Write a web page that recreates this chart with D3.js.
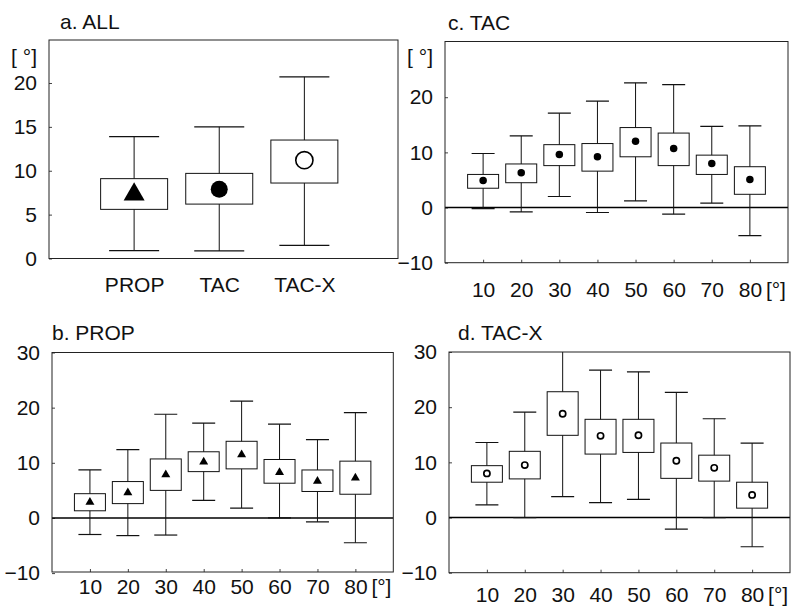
<!DOCTYPE html>
<html>
<head>
<meta charset="utf-8">
<script src="https://cdn.jsdelivr.net/npm/d3@7"></script>
<style>
  body { margin: 0; background: #fff; }
  text { font-family: "Liberation Sans", Arial, sans-serif; fill: #111; }
</style>
</head>
<body>
<div id="viz"></div>
<script>
// a. ALL
const groups = ["PROP", "TAC", "TAC-X"];
const allLow = [0.9, 0.86, 1.5];
const allQ1 = [5.6, 6.2, 8.6];
const allMed = [7.65, 7.9, 11.2];
const allQ3 = [9.1, 9.7, 13.5];
const allHigh = [13.9, 15.0, 20.7];

// b-d: by angle
const angles = [10, 20, 30, 40, 50, 60, 70, 80];

const propLow = [-3.0, -3.2, -3.1, 3.2, 1.8, 0.0, -0.7, -4.5];
const propQ1 = [1.3, 2.6, 5.0, 8.4, 8.9, 6.3, 4.8, 4.3];
const propMed = [3.1, 4.8, 8.1, 10.4, 11.7, 8.5, 6.9, 7.5];
const propQ3 = [4.4, 6.6, 10.7, 12.0, 13.9, 10.6, 8.7, 10.3];
const propHigh = [8.7, 12.4, 18.8, 17.2, 21.2, 17.0, 14.2, 19.1];

const tacLow = [-0.2, -0.8, 2.0, -0.9, 1.2, -1.2, 0.8, -5.1];
const tacQ1 = [3.5, 4.5, 7.6, 6.6, 9.2, 7.6, 6.0, 2.4];
const tacMed = [4.9, 6.3, 9.6, 9.2, 12.0, 10.7, 8.0, 5.1];
const tacQ3 = [6.0, 7.9, 11.4, 11.6, 14.5, 13.5, 9.5, 7.4];
const tacHigh = [9.8, 13.0, 17.1, 19.3, 22.6, 22.3, 14.7, 14.8];

const tacxLow = [2.3, 0.0, 3.8, 2.7, 3.3, -2.1, 0.0, -5.3];
const tacxQ1 = [6.4, 7.0, 14.9, 11.5, 11.8, 7.1, 6.6, 1.7];
const tacxMed = [8.0, 9.5, 18.8, 14.8, 14.9, 10.3, 9.0, 4.1];
const tacxQ3 = [9.4, 12.0, 22.8, 17.8, 17.8, 13.5, 11.3, 6.4];
const tacxHigh = [13.6, 19.1, 31.0, 26.7, 26.4, 22.7, 17.9, 13.5];

const ticksAll = [0, 5, 10, 15, 20];
const ticksBD = [-10, 0, 10, 20, 30];
const ticksC = [-10, 0, 10, 20];

const width = 795;
const height = 609;
const fontSize = '21px';

const svg = d3.select('#viz').append('svg')
    .attr('width', width)
    .attr('height', height);

function rows(keys, low, q1, med, q3, high) {
    return keys.map((k, i) => ({ key: k, i: i, low: low[i], q1: q1[i], med: med[i], q3: q3[i], high: high[i] }));
}

function marker(g, kind, size) {
    if (kind === 'triangle') {
        const w = size, h = size * 0.86;
        g.append('path')
            .attr('d', `M0,${-h / 2}L${w / 2},${h / 2}L${-w / 2},${h / 2}Z`)
            .attr('fill', '#000');
    } else if (kind === 'dot') {
        g.append('circle').attr('r', size / 2).attr('fill', '#000');
    } else {
        g.append('circle').attr('r', size / 2 - 0.9)
            .attr('fill', '#fff').attr('stroke', '#000').attr('stroke-width', size > 10 ? 1.6 : 1.7);
    }
}

function panel(opt) {
    const g = svg.append('g');
    const { x0, x1, y0, y1 } = opt;

    const y = d3.scaleLinear().domain(opt.yDomain).range([y1, y0]);
    const x = opt.x;

    const clipId = 'clip-' + opt.id;
    g.append('clipPath').attr('id', clipId)
        .append('rect').attr('x', x0).attr('y', y0).attr('width', x1 - x0).attr('height', y1 - y0);

    // y axis
    const yAxis = g.append('g')
        .attr('transform', `translate(${x0},0)`)
        .call(d3.axisLeft(y).tickValues(opt.yTicks).tickFormat(d3.format('d'))
            .tickSizeInner(-3).tickSizeOuter(0).tickPadding(12));
    yAxis.select('.domain').remove();
    yAxis.selectAll('line').attr('stroke', '#444');
    yAxis.selectAll('text').style('font-size', fontSize).attr('fill', '#111');

    // x axis
    const xAxis = g.append('g')
        .attr('transform', `translate(0,${y1})`)
        .call(d3.axisBottom(x).tickValues(opt.xTicks).tickFormat(opt.xFormat)
            .tickSizeInner(opt.xTickSize).tickSizeOuter(0).tickPadding(opt.xPad));
    xAxis.select('.domain').remove();
    xAxis.selectAll('line').attr('stroke', '#444');
    xAxis.selectAll('text').style('font-size', fontSize).attr('fill', '#111');

    if (opt.xUnit) {
        g.append('text')
            .attr('x', x(80) + 16)
            .attr('y', y1 + opt.xPad)
            .attr('dy', '0.71em')
            .style('font-size', fontSize)
            .text('[°]');
    }
    if (opt.yUnit) {
        g.append('text')
            .attr('x', x0 - 12)
            .attr('y', 57)
            .attr('dy', '0.32em')
            .attr('text-anchor', 'end')
            .style('font-size', fontSize)
            .text('[ °]');
    }

    // title
    g.append('text')
        .attr('x', opt.titleX)
        .attr('y', opt.titleY)
        .style('font-size', fontSize)
        .text(opt.title);

    const marks = g.append('g').attr('clip-path', `url(#${clipId})`);

    if (opt.zeroLine) {
        marks.append('line')
            .attr('x1', x0).attr('x2', x1)
            .attr('y1', y(0)).attr('y2', y(0))
            .attr('stroke', '#000').attr('stroke-width', 1.6);
    }

    const box = marks.selectAll('g.box')
        .data(opt.data)
        .enter()
        .append('g')
        .attr('class', 'box');

    const px = d => x(opt.xValue(d));

    box.append('line')
        .attr('x1', px).attr('x2', px)
        .attr('y1', d => y(d.low)).attr('y2', d => y(d.high))
        .attr('stroke', '#111').attr('stroke-width', 1);

    box.append('line')
        .attr('x1', d => px(d) - opt.capW / 2).attr('x2', d => px(d) + opt.capW / 2)
        .attr('y1', d => y(d.high)).attr('y2', d => y(d.high))
        .attr('stroke', '#111').attr('stroke-width', 1.2);

    box.append('line')
        .attr('x1', d => px(d) - opt.capW / 2).attr('x2', d => px(d) + opt.capW / 2)
        .attr('y1', d => y(d.low)).attr('y2', d => y(d.low))
        .attr('stroke', '#111').attr('stroke-width', 1.2);

    box.append('rect')
        .attr('x', d => px(d) - opt.boxW / 2)
        .attr('width', opt.boxW)
        .attr('y', d => y(d.q3))
        .attr('height', d => y(d.q1) - y(d.q3))
        .attr('fill', '#fff')
        .attr('stroke', '#111')
        .attr('stroke-width', 1);

    box.each(function (d, i) {
        const m = d3.select(this).append('g')
            .attr('transform', `translate(${px(d)},${y(d.med)})`);
        marker(m, opt.marker(d, i), opt.markerSize(d, i));
    });

    // frame
    g.append('rect')
        .attr('x', x0).attr('y', y0)
        .attr('width', x1 - x0).attr('height', y1 - y0)
        .attr('fill', 'none')
        .attr('stroke', '#222')
        .attr('stroke-width', 1);
}

const kinds = ['triangle', 'dot', 'open'];
const angleFormat = d => d;

// a. ALL
const xA = d3.scaleLinear().domain([0, 4.1]).range([49, 398]);
panel({
    id: 'a', title: 'a. ALL', titleX: 60, titleY: 29,
    x0: 49, x1: 398, y0: 40, y1: 258.5,
    yDomain: [0, 24.9], yTicks: ticksAll, yUnit: true,
    x: xA, xTicks: [1, 2, 3], xFormat: d => groups[d - 1], xTickSize: 0, xPad: 19,
    xValue: d => d.i + 1,
    data: rows(groups, allLow, allQ1, allMed, allQ3, allHigh),
    boxW: 67, capW: 50,
    marker: (d, i) => kinds[i], markerSize: (d, i) => [21, 17, 19][i]
});

// c. TAC
const xC = d3.scaleLinear().domain([0, 90]).range([445, 788]);
panel({
    id: 'c', title: 'c. TAC', titleX: 448, titleY: 30,
    x0: 445, x1: 788, y0: 41.5, y1: 262.7,
    yDomain: [-10, 30.1], yTicks: ticksC, yUnit: true, zeroLine: true,
    x: xC, xTicks: angles, xFormat: angleFormat, xTickSize: -3, xPad: 19, xUnit: true,
    xValue: d => d.key,
    data: rows(angles, tacLow, tacQ1, tacMed, tacQ3, tacHigh),
    boxW: 31, capW: 23,
    marker: () => 'dot', markerSize: () => 7.5
});

// b. PROP
const xB = d3.scaleLinear().domain([0, 90]).range([52, 393.3]);
panel({
    id: 'b', title: 'b. PROP', titleX: 52, titleY: 340,
    x0: 52, x1: 393.3, y0: 352.5, y1: 572,
    yDomain: [-9.8, 30], yTicks: ticksBD,
    zeroLine: true,
    x: xB, xTicks: angles, xFormat: angleFormat, xTickSize: -3, xPad: 7, xUnit: true,
    xValue: d => d.key,
    data: rows(angles, propLow, propQ1, propMed, propQ3, propHigh),
    boxW: 31, capW: 23,
    marker: () => 'triangle', markerSize: () => 9
});

// d. TAC-X
const xD = d3.scaleLinear().domain([0, 90]).range([449, 790]);
panel({
    id: 'd', title: 'd. TAC-X', titleX: 458, titleY: 340,
    x0: 449, x1: 790, y0: 352, y1: 572.7,
    yDomain: [-10, 30], yTicks: ticksBD,
    zeroLine: true,
    x: xD, xTicks: angles, xFormat: angleFormat, xTickSize: -3, xPad: 14, xUnit: true,
    xValue: d => d.key,
    data: rows(angles, tacxLow, tacxQ1, tacxMed, tacxQ3, tacxHigh),
    boxW: 31, capW: 23,
    marker: () => 'open', markerSize: () => 8
});
</script>
</body>
</html>
